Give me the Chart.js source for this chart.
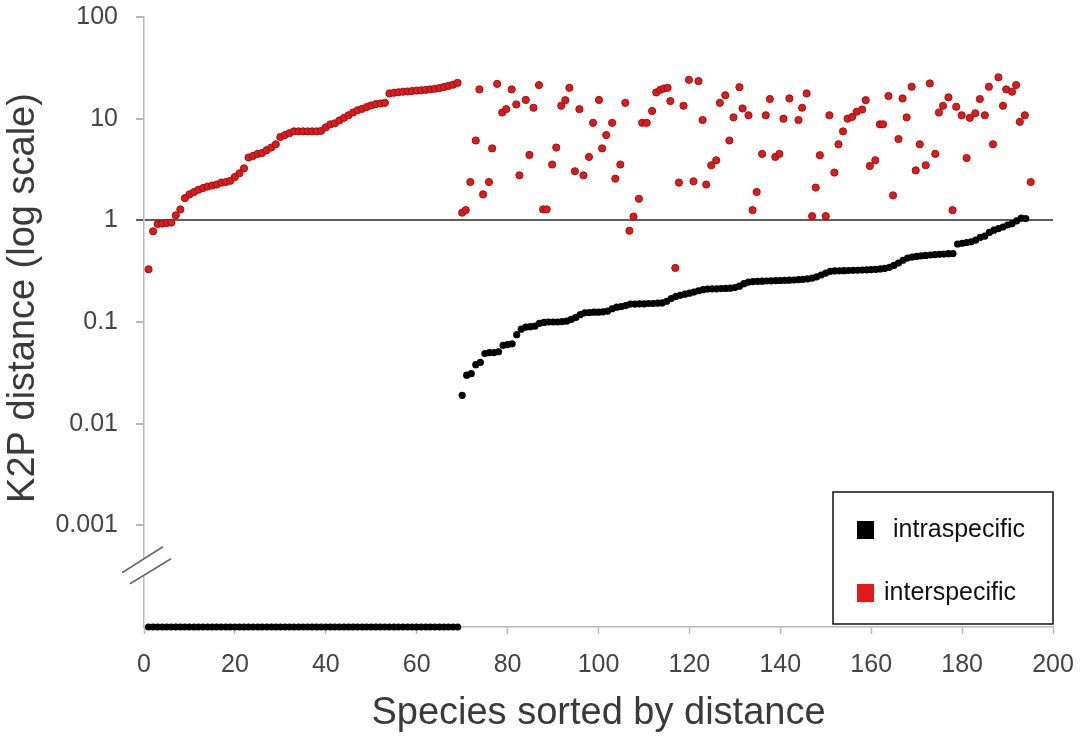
<!DOCTYPE html>
<html>
<head>
<meta charset="utf-8">
<script src="https://cdn.jsdelivr.net/npm/chart.js@4/dist/chart.umd.min.js"></script>
<style>
  html, body { margin: 0; padding: 0; background: #fff; }
  canvas { display: block; }
</style>
</head>
<body>
<canvas id="k2pChart" width="1084" height="740"></canvas>
<script>
// intraspecific K2P distance, species 1..194 (0 = no divergence, drawn on the broken bottom of the axis)
const intraValues = [
  0,0,0,0,0,0,0,0,0,0, 0,0,0,0,0,0,0,0,0,0, 0,0,0,0,0,0,0,0,0,0,
  0,0,0,0,0,0,0,0,0,0, 0,0,0,0,0,0,0,0,0,0, 0,0,0,0,0,0,0,0,0,0,
  0,0,0,0,0,0,0,0,0,
  0.019,0.030,0.031,0.038,0.040,0.049,0.050,0.050,0.051,0.059,
  0.060,0.061,0.075,0.085,0.089,0.090,0.091,0.097,0.099,0.100,
  0.100,0.100,0.101,0.102,0.106,0.111,0.118,0.123,0.124,0.125,
  0.125,0.126,0.128,0.135,0.140,0.142,0.145,0.150,0.150,0.151,
  0.151,0.152,0.152,0.153,0.154,0.160,0.170,0.178,0.183,0.188,
  0.192,0.197,0.203,0.208,0.211,0.212,0.212,0.213,0.214,0.215,
  0.218,0.225,0.238,0.247,0.250,0.251,0.252,0.253,0.254,0.255,
  0.256,0.257,0.258,0.259,0.261,0.263,0.266,0.270,0.278,0.290,
  0.303,0.315,0.318,0.319,0.320,0.321,0.322,0.323,0.324,0.326,
  0.328,0.330,0.333,0.337,0.345,0.360,0.380,0.405,0.425,0.435,
  0.442,0.448,0.452,0.456,0.460,0.463,0.466,0.470,0.472,0.585,
  0.595,0.605,0.615,0.640,0.680,0.700,0.760,0.800,0.830,0.860,
  0.900,0.930,0.990,1.050,1.040
];

// interspecific distance for species 1..69 (the ones with zero intraspecific distance)
const interSorted = [
  0.33,0.78,0.92,0.93,0.94,0.95,1.12,1.28,1.65,1.8,
  1.9,2.0,2.08,2.15,2.2,2.25,2.35,2.38,2.45,2.67,
  2.9,3.25,4.15,4.3,4.5,4.6,4.9,5.2,5.6,6.6,
  6.9,7.2,7.5,7.5,7.5,7.5,7.5,7.5,7.6,8.2,
  8.8,9.0,9.6,10.2,10.8,11.5,12.1,12.5,13.0,13.5,
  13.9,14.1,14.3,17.7,18.0,18.2,18.4,18.5,18.7,18.9,
  19.0,19.2,19.4,19.7,20.0,20.5,21.0,21.6,22.5
];

// interspecific distance for the remaining species (position)
const interScatterX = [
  70.0,70.8,71.8,73.0,73.8,74.6,75.9,76.6,77.7,78.8,
  79.7,80.9,81.9,82.6,84.0,84.8,85.7,86.9,87.8,88.6,
  89.8,90.7,91.8,92.7,93.6,94.8,95.8,96.7,97.9,98.8,
  100.1,100.8,101.7,103.0,103.7,104.8,105.9,106.8,107.7,108.9,
  109.6,110.6,111.8,112.7,113.6,114.4,115.2,115.8,116.9,117.7,
  118.7,119.9,120.9,122.0,122.9,123.7,124.8,125.9,126.7,127.9,
  128.8,129.7,131.0,131.7,133.0,133.9,134.8,136.0,136.8,137.7,
  138.9,139.8,140.7,142.0,144.0,144.8,145.8,147.0,147.8,148.7,
  150.0,150.8,151.9,152.8,153.8,154.8,155.8,156.8,158.0,158.8,
  159.7,160.9,161.9,162.6,163.8,164.8,166.0,166.9,167.8,168.9,
  169.8,170.7,172.0,172.9,174.1,174.9,175.8,177.0,177.9,178.7,
  179.9,181.0,181.7,182.9,183.9,185.0,185.9,186.8,188.0,189.0,
  189.7,191.0,191.9,192.7,193.8,195.1
];
const interScatterY = [
  1.19,1.26,2.38,6.1,19.4,1.8,2.38,5.1,22,11.5,
  12.4,19.4,13.8,2.77,15.3,4.4,12.8,21.4,1.28,1.28,
  3.54,5.2,13.4,15.2,20.1,3.04,12.4,2.77,4.2,9.1,
  15.3,5.1,6.9,9.1,2.57,3.54,14.3,0.79,1.09,1.63,
  9.1,9.1,11.9,18.1,19.2,19.8,20.1,14.9,0.34,2.35,
  13.4,24.1,2.42,23.4,9.7,2.25,3.48,3.9,14.3,17,
  6.1,10.3,20.4,12.6,10.8,1.26,1.9,4.5,10.8,15.6,
  4.2,4.5,10.0,15.8,9.7,12.8,17.7,1.1,2.1,4.37,
  1.1,10.8,2.95,5.6,7.5,10.0,10.4,11.7,12.3,15.2,
  3.43,3.9,8.8,8.8,16.7,1.76,6.3,15.8,10.3,20.6,
  3.1,5.6,3.48,22.2,4.5,11.5,13.4,16.2,1.26,13.1,
  10.8,4.1,10.2,11.3,15.6,10.8,20.6,5.6,25.5,13.4,
  19.4,18.4,21.4,9.3,10.8,2.38
];

const xTicks = [0, 20, 40, 60, 80, 100, 120, 140, 160, 180, 200];
const yTicks = [0.001, 0.01, 0.1, 1, 10, 100];
const yTickLabels = ['0.001', '0.01', '0.1', '1', '10', '100'];
const seriesNames = ['intraspecific', 'interspecific'];
const seriesColors = ['#000000', 'rgb(225,25,25)'];
const xTitle = 'Species sorted by distance';
const yTitle = 'K2P distance (log scale)';
const yFloor = 0.0001;

const FONT = "'Liberation Sans', Arial, sans-serif";

const intraPoints = intraValues.map((v, i) => ({ x: i + 1, y: v > 0 ? v : yFloor }));
const interPoints = interSorted.map((v, i) => ({ x: i + 1, y: v }))
  .concat(interScatterX.map((x, i) => ({ x: x, y: interScatterY[i] })));

// axis break, axis titles and the boxed legend
const extras = {
  id: 'extras',
  afterDraw(chart) {
    const ctx = chart.ctx;
    const area = chart.chartArea;
    const ys = chart.scales.y;

    // "//" break on the y axis
    const bx = area.left, by = ys.getPixelForValue(0.0004);
    ctx.save();
    ctx.fillStyle = '#fff';
    ctx.beginPath();
    ctx.moveTo(bx - 22, by + 7);
    ctx.lineTo(bx + 19, by - 19);
    ctx.lineTo(bx + 27, by - 7);
    ctx.lineTo(bx - 14, by + 18);
    ctx.closePath();
    ctx.fill();
    ctx.strokeStyle = '#6a6a6a';
    ctx.lineWidth = 1.6;
    ctx.beginPath();
    ctx.moveTo(bx - 22, by + 7); ctx.lineTo(bx + 19, by - 19);
    ctx.moveTo(bx - 14, by + 18); ctx.lineTo(bx + 27, by - 7);
    ctx.stroke();

    // axis titles
    ctx.fillStyle = '#3a3a3a';
    ctx.font = '38px ' + FONT;
    ctx.textAlign = 'center';
    ctx.textBaseline = 'alphabetic';
    ctx.fillText(xTitle, (area.left + area.right) / 2, 724);
    ctx.translate(34, 298);
    ctx.rotate(-Math.PI / 2);
    ctx.fillText(yTitle, 0, 0);
    ctx.restore();

    // legend
    ctx.save();
    const lx = area.right - 220, ly = area.bottom - 135;
    ctx.fillStyle = '#fff';
    ctx.fillRect(lx, ly, 220, 132);
    ctx.strokeStyle = '#111';
    ctx.lineWidth = 1.5;
    ctx.strokeRect(lx, ly, 220, 132);
    ctx.font = '25px ' + FONT;
    ctx.textAlign = 'left';
    ctx.textBaseline = 'middle';
    ctx.fillStyle = seriesColors[0];
    ctx.fillRect(lx + 24, ly + 29, 17, 18);
    ctx.fillStyle = '#111';
    ctx.fillText(seriesNames[0], lx + 60, ly + 38);
    ctx.fillStyle = seriesColors[1];
    ctx.fillRect(lx + 24, ly + 92, 17, 18);
    ctx.fillStyle = '#111';
    ctx.fillText(seriesNames[1], lx + 51, ly + 101);
    ctx.restore();
  }
};

var ctx = document.getElementById('k2pChart').getContext('2d');
new Chart(ctx, {
  type: 'scatter',
  data: {
    datasets: [{
      label: seriesNames[0],
      data: intraPoints,
      backgroundColor: seriesColors[0],
      borderColor: seriesColors[0],
      borderWidth: 0,
      pointRadius: 3.6,
      clip: false
    }, {
      label: seriesNames[1],
      data: interPoints,
      backgroundColor: seriesColors[1],
      borderColor: 'rgb(150,20,20)',
      borderWidth: 1,
      pointRadius: 3.6,
      clip: false
    }]
  },
  options: {
    responsive: false,
    animation: false,
    layout: { padding: { top: 17, right: 31, left: 0, bottom: 0 } },
    plugins: {
      legend: { display: false },
      tooltip: { enabled: false }
    },
    scales: {
      x: {
        type: 'linear',
        min: 0,
        max: 200,
        afterBuildTicks: s => { s.ticks = xTicks.map(v => ({ value: v })); },
        afterFit: s => { s.height = 113; s.paddingLeft = 0; s.paddingRight = 0; },
        ticks: {
          color: '#444',
          font: { family: FONT, size: 25 },
          padding: 16,
          maxRotation: 0
        },
        grid: { drawOnChartArea: false, tickLength: 7, tickColor: '#b8b8b8', tickWidth: 1.5 },
        border: { color: '#b8b8b8', width: 1.5 }
      },
      y: {
        type: 'logarithmic',
        min: yFloor,
        max: 100,
        afterBuildTicks: s => { s.ticks = yTicks.map(v => ({ value: v })); },
        afterFit: s => { s.width = 144; s.paddingTop = 0; s.paddingBottom = 0; },
        ticks: {
          color: '#444',
          font: { family: FONT, size: 25 },
          padding: 18,
          callback: (v) => yTickLabels[yTicks.indexOf(v)]
        },
        grid: {
          tickLength: 8,
          lineWidth: 2,
          color: c => (c.tick && c.tick.value === 1) ? '#5e5e5e' : 'rgba(0,0,0,0)',
          tickColor: c => (c.tick && c.tick.value === 1) ? '#5e5e5e' : '#b8b8b8'
        },
        border: { color: '#b8b8b8', width: 1.5 }
      }
    }
  },
  plugins: [extras]
});
</script>
</body>
</html>
